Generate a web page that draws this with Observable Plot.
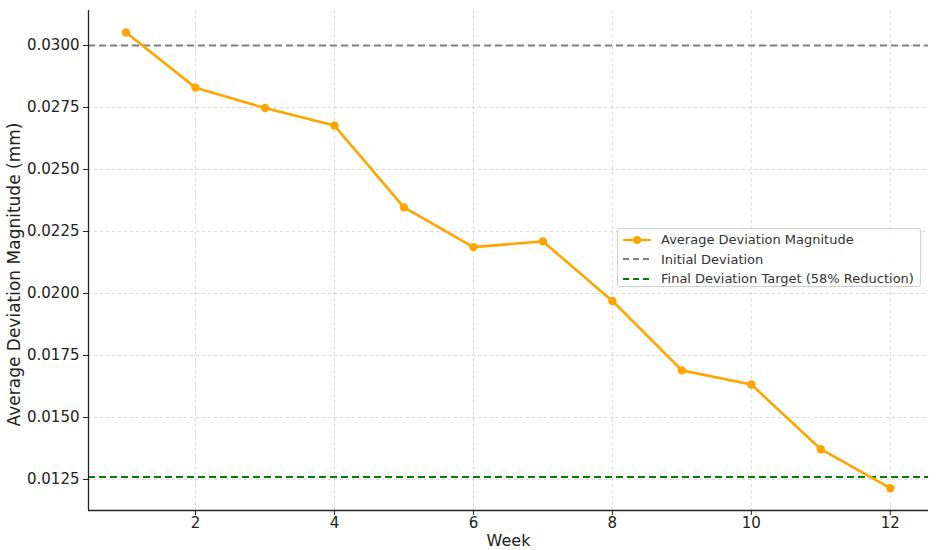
<!DOCTYPE html>
<html>
<head>
<meta charset="utf-8">
<script src="https://cdn.jsdelivr.net/npm/d3@7"></script>
<script src="https://cdn.jsdelivr.net/npm/@observablehq/plot@0.6"></script>
<style>
  html, body { margin: 0; padding: 0; background: #fff; }
  #wrap { position: relative; width: 936px; height: 550px; font-family: "DejaVu Sans", sans-serif; }
  #legend { position: absolute; left: 617px; top: 228px; width: 304px; height: 59px; border: 1px solid #d0d0d0; border-radius: 3px; background: rgba(255,255,255,0.85); font-size: 13px; color: #333; box-sizing: border-box; padding: 1px 0 0 4px; }
  .row { display: flex; align-items: center; height: 19.5px; }
  .row svg { margin-right: 9px; }
</style>
</head>
<body>
<div id="wrap">
  <div id="chart"></div>
  <div id="legend"></div>
</div>
<script>
const weeks = [1, 2, 3, 4, 5, 6, 7, 8, 9, 10, 11, 12];
const deviation = [0.03052, 0.02830, 0.02748, 0.02677, 0.02347, 0.02187, 0.02210, 0.01970, 0.01690, 0.01633, 0.01372, 0.01215];
const initialDeviation = 0.0300;
const targetDeviation = 0.0126;
const xTicks = [2, 4, 6, 8, 10, 12];
const yTicks = [0.0125, 0.0150, 0.0175, 0.0200, 0.0225, 0.0250, 0.0275, 0.0300];
const legendLabels = ["Average Deviation Magnitude", "Initial Deviation", "Final Deviation Target (58% Reduction)"];
const legendColors = ["#FFA500", "#808080", "#008000"];

const data = weeks.map((w, i) => ({week: w, value: deviation[i]}));
const xDomain = [0.46, 12.55];
const yDomain = [0.01125, 0.03141];

const chart = Plot.plot({
  width: 936,
  height: 550,
  marginLeft: 88,
  marginRight: 8,
  marginTop: 10,
  marginBottom: 40,
  style: {fontFamily: "DejaVu Sans, sans-serif", fontSize: "15px", color: "#222", background: "#fff"},
  x: {domain: xDomain, label: null},
  y: {domain: yDomain, label: null},
  marks: [
    Plot.ruleX(xTicks, {stroke: "#b0b0b0", strokeOpacity: 0.6, strokeDasharray: "3,3", strokeWidth: 0.8}),
    Plot.ruleY(yTicks, {stroke: "#b0b0b0", strokeOpacity: 0.6, strokeDasharray: "3,3", strokeWidth: 0.8}),
    Plot.ruleY([initialDeviation], {stroke: "#808080", strokeWidth: 2, strokeDasharray: "7,4"}),
    Plot.ruleY([targetDeviation], {stroke: "#008000", strokeWidth: 2, strokeDasharray: "7,4"}),
    Plot.line(data, {x: "week", y: "value", stroke: "#FFA500", strokeWidth: 2.6}),
    Plot.dot(data, {x: "week", y: "value", fill: "#FFA500", r: 4.2}),
    Plot.ruleX([xDomain[0]], {stroke: "#222", strokeWidth: 1.3}),
    Plot.ruleY([yDomain[0]], {stroke: "#222", strokeWidth: 1.3}),
    Plot.axisX({ticks: xTicks, tickSize: 5, tickPadding: 2, tickFormat: d => String(d), label: null, fontSize: 15}),
    Plot.axisY({ticks: yTicks, tickSize: 5, tickPadding: 4, tickFormat: d => d.toFixed(4), label: null, fontSize: 15}),
    Plot.text(["Week"], {frameAnchor: "bottom", lineAnchor: "middle", dy: 30, fontSize: 16, fill: "#222"}),
    Plot.text(["Average Deviation Magnitude (mm)"], {frameAnchor: "left", textAnchor: "middle", dx: -74, dy: 14, rotate: -90, fontSize: 17, fill: "#222"})
  ]
});
document.getElementById("chart").appendChild(chart);

const legend = document.getElementById("legend");
legendLabels.forEach((lab, i) => {
  const row = document.createElement("div");
  row.className = "row";
  const dash = i === 0 ? "" : 'stroke-dasharray="6,4"';
  const dot = i === 0 ? `<circle cx="15" cy="6" r="4" fill="${legendColors[i]}"/>` : "";
  row.innerHTML = `<svg width="30" height="12"><line x1="1" y1="6" x2="29" y2="6" stroke="${legendColors[i]}" stroke-width="2.2" ${dash}/>${dot}</svg><span>${lab}</span>`;
  legend.appendChild(row);
});
</script>
</body>
</html>
